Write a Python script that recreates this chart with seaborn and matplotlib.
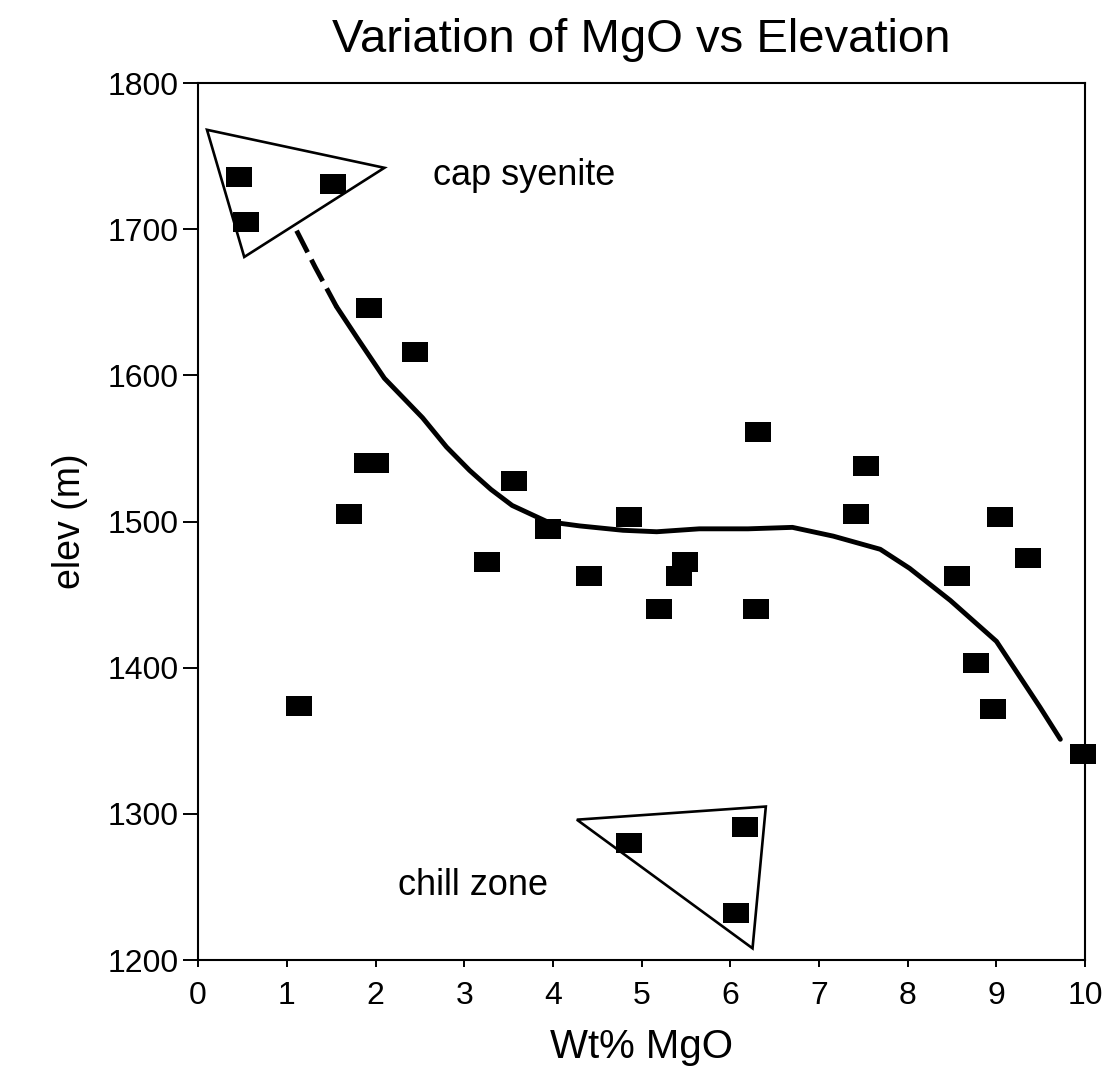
import matplotlib
matplotlib.use("Agg")
import matplotlib.pyplot as plt
from matplotlib.patches import Polygon
import numpy as np
import pandas as pd
import seaborn as sns

# Sample analyses: MgO content (wt%) and elevation (m)
mgo = [0.46, 0.54, 1.52, 1.93, 2.45, 1.90, 2.00, 3.56, 1.70, 3.26, 3.94,
       4.86, 4.41, 5.20, 1.14, 6.31, 7.53, 7.42, 9.04, 9.36, 5.49, 5.42,
       8.55, 6.29, 8.77, 8.96, 9.98, 4.86, 6.16, 6.06]
elev = [1736, 1705, 1731, 1646, 1616, 1540, 1540, 1528, 1505, 1472, 1495,
        1503, 1463, 1440, 1374, 1561, 1538, 1505, 1503, 1475, 1472, 1463,
        1463, 1440, 1403, 1372, 1341, 1280, 1291, 1232]

# Hand-fitted trend: dashed extrapolation, then the solid trend
trend_dash_x = [1.11, 1.32, 1.56]
trend_dash_y = [1699, 1674, 1647]
trend_x = [1.56, 1.80, 2.10, 2.53, 2.80, 3.06, 3.30, 3.54, 3.93, 4.30, 4.79,
           5.17, 5.65, 6.20, 6.70, 7.16, 7.69, 8.02, 8.48, 9.00, 9.49, 9.72]
trend_y = [1647, 1625, 1598, 1571, 1551, 1535, 1522, 1511, 1500, 1497, 1494,
           1493, 1495, 1495, 1496, 1490, 1481, 1468, 1446, 1418, 1373, 1351]

# Outlines grouping the cap syenite and chill zone samples
cap_syenite_outline = [(0.10, 1768), (2.10, 1742), (0.52, 1681)]
chill_zone_outline = [(4.27, 1296), (6.40, 1305), (6.25, 1208)]

x_ticks = list(range(0, 11))
y_ticks = [1200, 1300, 1400, 1500, 1600, 1700, 1800]

sns.set_style("ticks")
plt.rcParams["font.family"] = ["Liberation Sans", "DejaVu Sans"]
plt.rcParams.update({
    "text.color": "black",
    "axes.labelcolor": "black",
    "xtick.color": "black",
    "ytick.color": "black",
})

fig = plt.figure(figsize=(11.13, 10.70), dpi=100)
ax = fig.add_axes([0.178, 0.1028, 0.797, 0.8196])

samples = pd.DataFrame({"mgo": mgo, "elev": elev})
rect = [(-1.3, -1.0), (1.3, -1.0), (1.3, 1.0), (-1.3, 1.0)]
sns.scatterplot(data=samples, x="mgo", y="elev", marker=rect, s=350,
                color="black", linewidth=0, ax=ax, zorder=3, clip_on=False)

sns.lineplot(x=trend_dash_x, y=trend_dash_y, sort=False, estimator=None,
             color="black", lw=3.5, ax=ax, linestyle=(0, (5.0, 1.7)))
sns.lineplot(x=trend_x, y=trend_y, sort=False, estimator=None,
             color="black", lw=3.5, ax=ax)

for outline in (cap_syenite_outline, chill_zone_outline):
    ax.add_patch(Polygon(outline, closed=True, fill=False, edgecolor="black",
                         lw=1.9, joinstyle="miter"))

ax.text(2.65, 1737, "cap syenite", fontsize=26, va="center", ha="left")
ax.text(2.25, 1251, "chill zone", fontsize=26, va="center", ha="left")

ax.set_xlim(0, 10)
ax.set_ylim(1200, 1800)
ax.set_xticks(x_ticks)
ax.set_yticks(y_ticks)
ax.tick_params(axis="x", direction="out", length=5, width=1.4,
               labelsize=23, pad=10, top=False)
ax.tick_params(axis="y", direction="out", length=11, width=1.4,
               labelsize=23, pad=3, right=False)
for sp in ax.spines.values():
    sp.set_linewidth(1.5)
    sp.set_color("black")

ax.set_xlabel("Wt% MgO", fontsize=29, labelpad=12)
ax.set_ylabel("elev (m)", fontsize=27, labelpad=14)
ax.set_title("Variation of MgO vs Elevation", fontsize=34, pad=22)

fig.savefig("out.png", dpi=100, facecolor="white")
